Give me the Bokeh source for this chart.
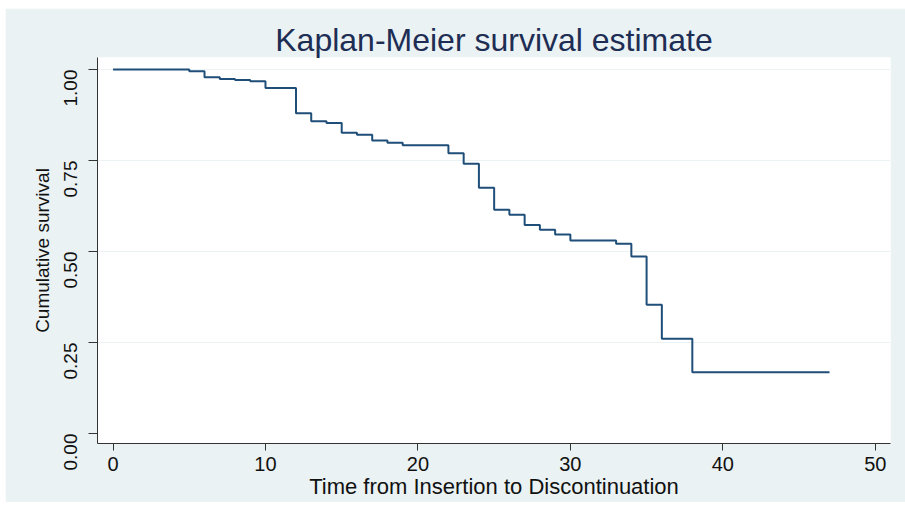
from bokeh.plotting import figure
from bokeh.models import FixedTicker, NumeralTickFormatter, Range1d
from bokeh.embed import file_html
from bokeh.resources import INLINE
import math

# Kaplan-Meier step values
times = [0, 5, 6, 7, 8, 9, 10, 12, 13, 14, 15, 16, 17, 18, 19, 22, 23, 24, 25,
         26, 27, 28, 29, 30, 33, 34, 35, 36, 38, 47]
survival = [1.000, 0.995, 0.979, 0.974, 0.971, 0.968, 0.949, 0.880, 0.858, 0.853,
            0.826, 0.821, 0.805, 0.799, 0.792, 0.770, 0.741, 0.675, 0.615, 0.601,
            0.573, 0.560, 0.547, 0.530, 0.521, 0.486, 0.354, 0.260, 0.168, 0.168]
x_ticks = [0, 10, 20, 30, 40, 50]
y_ticks = [0.0, 0.25, 0.5, 0.75, 1.0]
y_grid = [0.25, 0.5, 0.75, 1.0]

BG = "#EAF2F3"
NAVY = "#1F4E79"
FONT = "Liberation Sans"

p = figure(width=900, height=494, output_backend="svg", toolbar_location=None,
           x_range=Range1d(-1.02, 51.0), y_range=Range1d(-0.0275, 1.033),
           title="Kaplan-Meier survival estimate",
           min_border_left=92, min_border_right=15, min_border_top=49,
           min_border_bottom=59)
p.margin = (8, 0, 0, 5)

p.step(times, survival, mode="after", line_color=NAVY, line_width=2)

p.background_fill_color = "white"
p.border_fill_color = BG
p.outline_line_color = None

p.title.align = "center"
p.title.text_font = FONT
p.title.text_font_size = "32px"
p.title.text_font_style = "normal"
p.title.text_color = "#1E2D53"
p.title.standoff = 0

p.xgrid.visible = False
p.ygrid.ticker = FixedTicker(ticks=y_grid)
p.ygrid.grid_line_color = BG
p.ygrid.grid_line_width = 1

for ax in (p.xaxis[0], p.yaxis[0]):
    ax.axis_line_color = "#333333"
    ax.major_tick_line_color = "#333333"
    ax.major_tick_in = 0
    ax.minor_tick_line_color = None
    ax.major_label_text_font = FONT
    ax.major_label_text_color = "#111111"
    ax.axis_label_text_font = FONT
    ax.axis_label_text_font_style = "normal"
    ax.axis_label_text_color = "#111111"

p.xaxis.ticker = FixedTicker(ticks=x_ticks)
p.xaxis.major_tick_out = 7
p.xaxis.major_label_text_font_size = "20px"
p.xaxis.axis_label = "Time from Insertion to Discontinuation"
p.xaxis.axis_label_text_font_size = "22px"
p.xaxis.major_label_standoff = 6
p.xaxis.axis_label_standoff = 0

p.yaxis.ticker = FixedTicker(ticks=y_ticks)
p.yaxis.formatter = NumeralTickFormatter(format="0.00")
p.yaxis.major_tick_out = 9
p.yaxis.major_label_orientation = math.pi / 2
p.yaxis.major_label_text_font_size = "19px"
p.yaxis.axis_label = "Cumulative survival"
p.yaxis.axis_label_text_font_size = "19px"
p.yaxis.major_label_standoff = 18
p.yaxis.axis_label_standoff = 2

open("out.html", "w").write(file_html(p, INLINE))
